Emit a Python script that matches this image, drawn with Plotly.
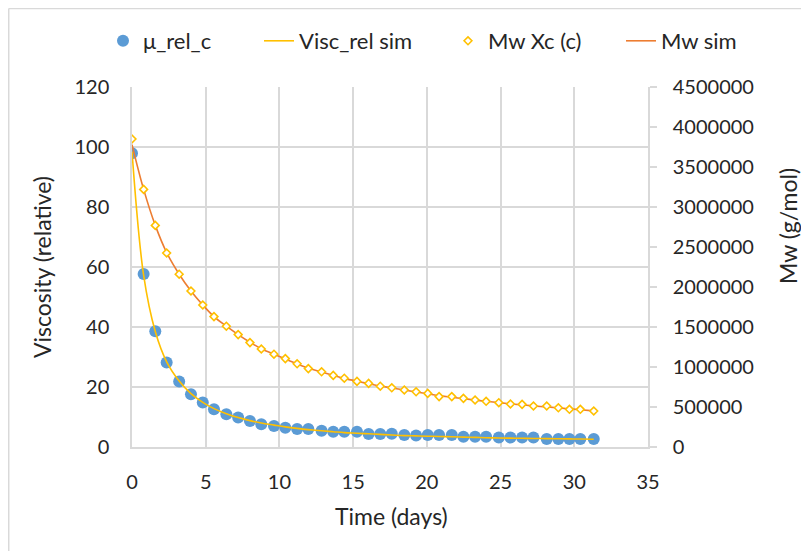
import plotly.graph_objects as go

# time points (days)
time_days = [0, 0.79, 1.58, 2.35, 3.2, 4.0, 4.8, 5.56, 6.4, 7.2, 8.0, 8.77, 9.63, 10.4,
             11.2, 11.96, 12.86, 13.65, 14.4, 15.26, 16.05, 16.84, 17.62, 18.47, 19.27,
             20.06, 20.83, 21.69, 22.48, 23.27, 24.02, 24.88, 25.67, 26.46, 27.23, 28.13,
             28.92, 29.67, 30.41, 31.32]

# measured relative viscosity
mu_rel_c = [97.9, 57.7, 38.6, 28.2, 21.8, 17.6, 14.8, 12.6, 10.9, 9.8, 8.7, 7.6, 7.0, 6.4,
            6.0, 6.0, 5.4, 5.1, 5.1, 5.1, 4.3, 4.3, 4.4, 4.0, 3.8, 4.0, 4.0, 4.0, 3.4, 3.4,
            3.4, 3.2, 3.2, 3.2, 3.2, 2.7, 2.7, 2.7, 2.7, 2.7]

# simulated relative viscosity
visc_rel_sim = [98.5, 57.2, 38.5, 28.4, 22.0, 17.8, 14.9, 12.8, 11.1, 9.8, 8.8, 8.0, 7.3, 6.7,
                6.2, 5.8, 5.4, 5.1, 4.8, 4.6, 4.4, 4.2, 4.0, 3.8, 3.7, 3.6, 3.5, 3.4, 3.3,
                3.2, 3.1, 3.0, 2.95, 2.9, 2.85, 2.8, 2.75, 2.7, 2.65, 2.6]

# Mw from Xc (g/mol)
mw_xc = [3850000, 3220000, 2770000, 2425000, 2160000, 1950000, 1775000, 1630000, 1510000,
         1405000, 1305000, 1225000, 1160000, 1105000, 1040000, 980000, 940000, 895000,
         860000, 820000, 795000, 760000, 740000, 712000, 690000, 670000, 630000, 630000,
         608000, 588000, 571000, 554000, 538000, 533000, 513000, 513000, 490000, 471000,
         471000, 450000]

# simulated Mw (g/mol)
mw_sim = [3780000, 3220000, 2770000, 2430000, 2160000, 1950000, 1775000, 1630000, 1510000,
          1405000, 1310000, 1228000, 1160000, 1100000, 1040000, 985000, 938000, 896000,
          858000, 822000, 792000, 762000, 738000, 712000, 688000, 665000, 642000, 622000,
          604000, 587000, 571000, 555000, 540000, 527000, 514000, 501000, 489000, 477000,
          466000, 452000]

FONT = "Lato"
GRID = "#D9D9D9"
TXT = "#262626"
W, H = 809, 551

fig = go.Figure()

fig.add_trace(go.Scatter(x=time_days, y=mu_rel_c, name="μ_rel_c", mode="markers",
                         legend="legend",
                         marker=dict(color="#5B9BD5", size=12, symbol="circle")))
fig.add_trace(go.Scatter(x=time_days, y=visc_rel_sim, name="Visc_rel sim", mode="lines",
                         legend="legend2",
                         line=dict(color="#FFC000", width=1.6, shape="spline")))
fig.add_trace(go.Scatter(x=time_days, y=mw_sim, name="Mw sim", mode="lines", yaxis="y2",
                         legend="legend4",
                         line=dict(color="#ED7D31", width=1.6, shape="spline")))
fig.add_trace(go.Scatter(x=time_days, y=mw_xc, name="Mw Xc (c)", mode="markers", yaxis="y2",
                         legend="legend3",
                         marker=dict(color="white", size=6, symbol="diamond",
                                     line=dict(color="#FFC000", width=1.6))))


def leg(x_px):
    # one legend per series so the entries sit where the reference has them
    return dict(orientation="h", xref="container", yref="container",
                x=x_px / W, y=1 - 33 / H, xanchor="left", yanchor="middle",
                font=dict(size=22, color=TXT), bgcolor="rgba(0,0,0,0)")


# axis titles placed as annotations
titles = [
    dict(text="Viscosity (relative)", x=-0.1744, y=0.5, textangle=-90),
    dict(text="Mw (g/mol)", x=1.2713, y=0.614, textangle=-90),
    dict(text="Time (days)", x=0.502, y=-0.1917, textangle=0),
]

fig.update_layout(
    width=W, height=H,
    margin=dict(l=124, r=169, t=79, b=112, autoexpand=False),
    paper_bgcolor="white", plot_bgcolor="white",
    font=dict(family=FONT, size=20, color=TXT),
    showlegend=True,
    legend=leg(95), legend2=leg(251), legend3=leg(440), legend4=leg(613),
    xaxis=dict(range=[0, 35], dtick=5, showgrid=True, gridcolor=GRID, gridwidth=1.5,
               showline=True, linecolor=GRID, linewidth=1.5, zeroline=False,
               ticks="", ticklabelstandoff=16, automargin=False,
               tickfont=dict(size=20)),
    yaxis=dict(range=[0, 120], dtick=20, showgrid=True, gridcolor=GRID, gridwidth=1.5,
               showline=True, linecolor=GRID, linewidth=1.5, zeroline=False,
               ticks="", ticklabelstandoff=17, automargin=False,
               tickfont=dict(size=20)),
    yaxis2=dict(range=[0, 4500000], dtick=500000, overlaying="y", side="right",
                showgrid=False, showline=True, linecolor=GRID, linewidth=1.5,
                zeroline=False, ticks="outside", ticklen=7, tickcolor=GRID, tickwidth=1.5,
                ticklabelstandoff=12, tickformat="d", automargin=False,
                tickfont=dict(size=20)),
    annotations=[dict(xref="paper", yref="paper", showarrow=False,
                      xanchor="center", yanchor="middle",
                      font=dict(size=23, color=TXT), **t) for t in titles],
    shapes=[
        # chart area border (left and top edges visible in the reference)
        dict(type="line", xref="paper", yref="paper", x0=-0.2389, x1=-0.2389,
             y0=-0.4, y1=1.218, line=dict(color=GRID, width=1.5)),
        dict(type="line", xref="paper", yref="paper", x0=-0.2389, x1=1.4,
             y0=1.218, y1=1.218, line=dict(color=GRID, width=1.5)),
    ],
)

fig.write_html("out.html")
